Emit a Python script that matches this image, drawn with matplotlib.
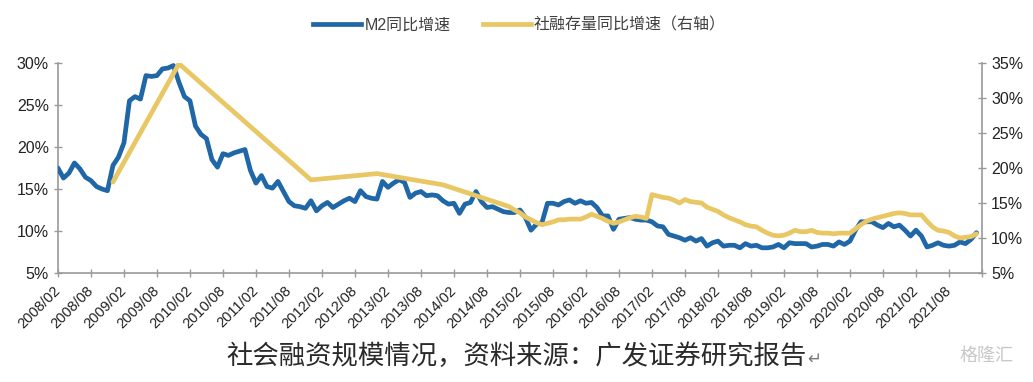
import matplotlib
matplotlib.use("Agg")
import matplotlib.pyplot as plt
from matplotlib.lines import Line2D

plt.rcParams['font.family'] = ['Liberation Sans', 'Noto Sans CJK SC', 'DejaVu Sans']

# M2 同比增速 (%), 2008/02 - 2022/01, monthly
m2_2008 = [17.5, 16.3, 16.9, 18.1, 17.4, 16.4, 16.0, 15.3, 15.0, 14.8, 17.8]
m2_2009 = [18.8, 20.5, 25.5, 26.0, 25.7, 28.5, 28.4, 28.5, 29.3, 29.4, 29.7, 27.7]
m2_2010 = [26.0, 25.5, 22.5, 21.5, 21.0, 18.5, 17.6, 19.2, 19.0, 19.3, 19.5, 19.7]
m2_2011 = [17.2, 15.7, 16.6, 15.3, 15.1, 15.9, 14.7, 13.5, 13.0, 12.9, 12.7, 13.6]
m2_2012 = [12.4, 13.0, 13.4, 12.8, 13.2, 13.6, 13.9, 13.5, 14.8, 14.1, 13.9, 13.8]
m2_2013 = [15.9, 15.2, 15.7, 16.1, 15.8, 14.0, 14.5, 14.7, 14.2, 14.3, 14.2, 13.6]
m2_2014 = [13.2, 13.3, 12.1, 13.2, 13.4, 14.7, 13.5, 12.8, 12.9, 12.6, 12.3, 12.2]
m2_2015 = [12.2, 12.5, 11.6, 10.1, 10.8, 11.0, 13.3, 13.3, 13.1, 13.5, 13.7, 13.3]
m2_2016 = [13.6, 13.3, 13.4, 12.8, 11.8, 11.8, 10.2, 11.4, 11.5, 11.6, 11.4, 11.3]
m2_2017 = [11.3, 11.1, 10.6, 10.5, 9.6, 9.4, 9.2, 8.9, 9.2, 8.8, 9.1, 8.2]
m2_2018 = [8.6, 8.8, 8.2, 8.3, 8.3, 8.0, 8.5, 8.2, 8.3, 8.0, 8.0, 8.1]
m2_2019 = [8.4, 8.0, 8.6, 8.5, 8.5, 8.5, 8.1, 8.2, 8.4, 8.4, 8.2, 8.7]
m2_2020 = [8.4, 8.8, 10.1, 11.1, 11.1, 11.1, 10.7, 10.4, 10.9, 10.5, 10.7, 10.1]
m2_2021 = [9.4, 10.1, 9.4, 8.1, 8.3, 8.6, 8.3, 8.2, 8.3, 8.7, 8.5, 9.0]
m2_2022 = [9.8]

m2 = (m2_2008 + m2_2009 + m2_2010 + m2_2011 + m2_2012 + m2_2013 + m2_2014
      + m2_2015 + m2_2016 + m2_2017 + m2_2018 + m2_2019 + m2_2020 + m2_2021 + m2_2022)

# 社融存量同比增速 (%), right axis
sf_dates = ['2008/12', '2009/12', '2011/12', '2012/12', '2013/12', '2014/12',
            '2015/01', '2015/02', '2015/03', '2015/04', '2015/05', '2015/06',
            '2015/07', '2015/08', '2015/09', '2015/10', '2015/11', '2015/12',
            '2016/01', '2016/02', '2016/03', '2016/04', '2016/05', '2016/06',
            '2016/07', '2016/08', '2016/09', '2016/10', '2016/11', '2016/12',
            '2017/01', '2017/02', '2017/03', '2017/04', '2017/05', '2017/06',
            '2017/07', '2017/08', '2017/09', '2017/10', '2017/11', '2017/12',
            '2018/01', '2018/02', '2018/03', '2018/04', '2018/05', '2018/06',
            '2018/07', '2018/08', '2018/09', '2018/10', '2018/11', '2018/12',
            '2019/01', '2019/02', '2019/03', '2019/04', '2019/05', '2019/06',
            '2019/07', '2019/08', '2019/09', '2019/10', '2019/11', '2019/12',
            '2020/01', '2020/02', '2020/03', '2020/04', '2020/05', '2020/06',
            '2020/07', '2020/08', '2020/09', '2020/10', '2020/11', '2020/12',
            '2021/01', '2021/02', '2021/03', '2021/04', '2021/05', '2021/06',
            '2021/07', '2021/08', '2021/09', '2021/10', '2021/11', '2021/12',
            '2022/01']
sf_values = [18.0, 34.9, 18.3, 19.2, 17.6, 14.5,
             14.0, 13.6, 13.0, 12.6, 12.2, 11.9,
             12.1, 12.3, 12.6, 12.6, 12.7, 12.7,
             12.7, 13.0, 13.4, 13.1, 12.8, 12.4,
             12.1, 12.3, 12.6, 12.9, 13.1, 13.0,
             12.8, 16.2, 16.0, 15.8, 15.7, 15.4,
             15.0, 15.5, 15.2, 15.1, 15.0, 14.4,
             14.1, 13.8, 13.3, 12.9, 12.6, 12.3,
             11.9, 11.7, 11.6, 11.1, 10.7, 10.4,
             10.3, 10.4, 10.7, 11.1, 10.9, 10.9,
             11.1, 10.8, 10.7, 10.7, 10.6, 10.7,
             10.7, 10.7, 11.3, 11.9, 12.4, 12.7,
             12.9, 13.1, 13.3, 13.5, 13.6, 13.5,
             13.3, 13.3, 13.3, 12.4, 11.6, 11.1,
             11.0, 10.8, 10.3, 10.0, 10.1, 10.2,
             10.6]

tick_labels = ['%d/%02d' % (2008 + (1 + 6 * i) // 12, (1 + 6 * i) % 12 + 1) for i in range(28)]


def month_idx(s):
    y, m = s.split('/')
    return (int(y) - 2008) * 12 + int(m) - 2


blue = '#1f67a6'
gold = '#e8c764'
axis_col = '#9a9a9a'

fig = plt.figure(figsize=(10.33, 3.82), dpi=100)
ax = fig.add_axes([0.0561, 0.2853, 0.8945, 0.5498])
ax2 = ax.twinx()

ax.plot(range(len(m2)), m2, color=blue, lw=3.4, solid_joinstyle='round',
        solid_capstyle='round', zorder=3)
ax2.plot([month_idx(d) for d in sf_dates], sf_values, color=gold, lw=3.4,
         solid_joinstyle='round', solid_capstyle='round')

ax.set_xlim(0, 168)
ax.set_ylim(5, 30)
ax2.set_ylim(5, 35)
ax.set_yticks(range(5, 31, 5))
ax.set_yticklabels(['%d%%' % v for v in range(5, 31, 5)])
ax2.set_yticks(range(5, 36, 5))
ax2.set_yticklabels(['%d%%' % v for v in range(5, 36, 5)])
ax.set_xticks(list(range(0, 168, 6)) + [168])
ax.set_xticklabels(tick_labels + [''], rotation=45, ha='right', va='center',
                   rotation_mode='anchor', fontsize=10, color='#222222')

for a in (ax, ax2):
    a.spines['top'].set_visible(False)
    for s in ('left', 'right', 'bottom'):
        a.spines[s].set_color(axis_col)
        a.spines[s].set_linewidth(1.2)
    a.tick_params(direction='inout', length=6, width=1, color=axis_col,
                  labelsize=11.5, labelcolor='#222222')
ax.tick_params(axis='x', pad=8, labelsize=10.5)
ax.spines['right'].set_visible(False)
ax2.spines['left'].set_visible(False)
ax2.spines['bottom'].set_visible(False)

handles = [Line2D([], [], color=blue, lw=3.4), Line2D([], [], color=gold, lw=3.4)]
fig.legend(handles, ['M2同比增速', '社融存量同比增速（右轴）'], loc='center',
           bbox_to_anchor=(0.503, 0.935), ncol=2, frameon=False, fontsize=11.5,
           handlelength=3.0, handletextpad=0.2, columnspacing=2.0,
           labelcolor='#404040')

cap = fig.text(0.5, 0.068, '社会融资规模情况，资料来源：广发证券研究报告',
               ha='center', va='center', fontsize=19, color='#2a2a2a', fontweight='light',
               family=['Noto Sans CJK SC', 'DejaVu Sans'])
fig.canvas.draw()
bb = cap.get_window_extent().transformed(fig.transFigure.inverted())
fig.text(bb.x1 + 0.001, 0.062, '↵', ha='left', va='center', fontsize=12,
         color='#777777', family=['DejaVu Sans'])
fig.text(0.955, 0.068, '格隆汇', ha='center', va='center', fontsize=13,
         color='#c8c8c8', family=['Noto Sans CJK SC', 'DejaVu Sans'])

fig.savefig('out.png', dpi=100)
